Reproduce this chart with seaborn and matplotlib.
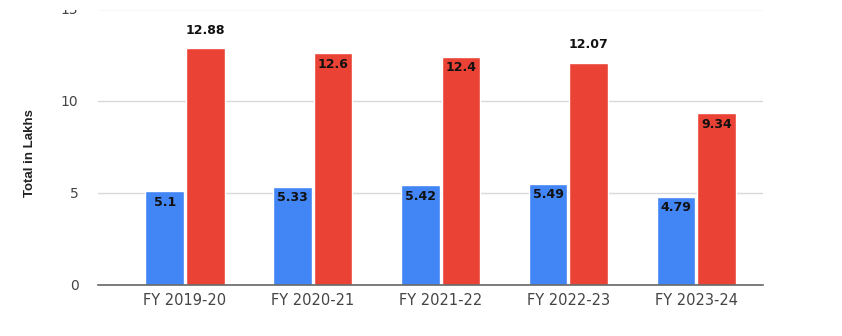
import matplotlib
matplotlib.use("Agg")
import matplotlib.pyplot as plt
from matplotlib.patches import Rectangle
import seaborn as sns
import pandas as pd

# ---- data ----
years = ["FY 2019-20", "FY 2020-21", "FY 2021-22", "FY 2022-23", "FY 2023-24"]
series_names = ["Series 1", "Series 2"]
series1 = [5.1, 5.33, 5.42, 5.49, 4.79]
series2 = [12.88, 12.6, 12.4, 12.07, 9.34]
y_ticks = [0, 5, 10, 15]
y_label = "Total in Lakhs"

# label placement style (outside = above bar)
series2_label_outside = [True, False, False, True, False]

colors = ["#4285F4", "#EA4335"]

df = pd.DataFrame({
    "year": years * 2,
    "series": [series_names[0]] * len(years) + [series_names[1]] * len(years),
    "value": series1 + series2,
})

sns.set_theme(style="white")
plt.rcParams["font.family"] = ["DejaVu Sans"]

fig = plt.figure(figsize=(8.42, 3.36), dpi=100)
ax = fig.add_axes([98 / 842, 1 - 285 / 336, (763 - 98) / 842, (285 - 9) / 336])

sns.barplot(data=df, x="year", y="value", hue="series", order=years,
            hue_order=series_names, palette=colors, width=0.635, gap=0.05,
            saturation=1, legend=False, ax=ax, errorbar=None)

ax.set_ylim(0, 15)
ax.set_xlim(-0.681, 4.524)
ax.set_yticks(y_ticks)
ax.set_yticklabels([str(t) for t in y_ticks])
ax.grid(axis="y", color="#d9d9d9", linewidth=1)
ax.grid(axis="x", visible=False)
ax.set_axisbelow(True)
for s in ["top", "right", "left"]:
    ax.spines[s].set_visible(False)
ax.spines["bottom"].set_color("#666666")
ax.spines["bottom"].set_linewidth(1.2)
ax.tick_params(axis="both", length=0, colors="#444444", labelsize=10)
ax.tick_params(axis="x", pad=6, labelsize=10.5)
ax.tick_params(axis="y", pad=14)
ax.set_xlabel("")
ax.set_ylabel("")

fig.text(30 / 842, 1 - 153 / 336, y_label, rotation=90, ha="center", va="center",
         fontsize=9.5, fontweight="bold", color="#222222",
         family=["Liberation Sans Narrow", "Liberation Sans", "DejaVu Sans"])

# data labels
containers = ax.containers
for i, bar in enumerate(containers[0]):
    h = bar.get_height()
    ax.annotate(f"{series1[i]:g}", (bar.get_x() + bar.get_width() / 2, h),
                xytext=(0, -11), textcoords="offset pixels", ha="center", va="center",
                fontsize=9, fontweight="bold", color="#111111")
for i, bar in enumerate(containers[1]):
    h = bar.get_height()
    off = 18 if series2_label_outside[i] else -11
    ax.annotate(f"{series2[i]:g}", (bar.get_x() + bar.get_width() / 2, h),
                xytext=(0, off), textcoords="offset pixels", ha="center", va="center",
                fontsize=9, fontweight="bold", color="#111111")

# the reference is cut off at the top edge
fig.add_artist(Rectangle((0, 1 - 10 / 336), 1, 10 / 336, transform=fig.transFigure,
                         facecolor="white", edgecolor="none", zorder=10))

fig.savefig("out.png", dpi=100)
